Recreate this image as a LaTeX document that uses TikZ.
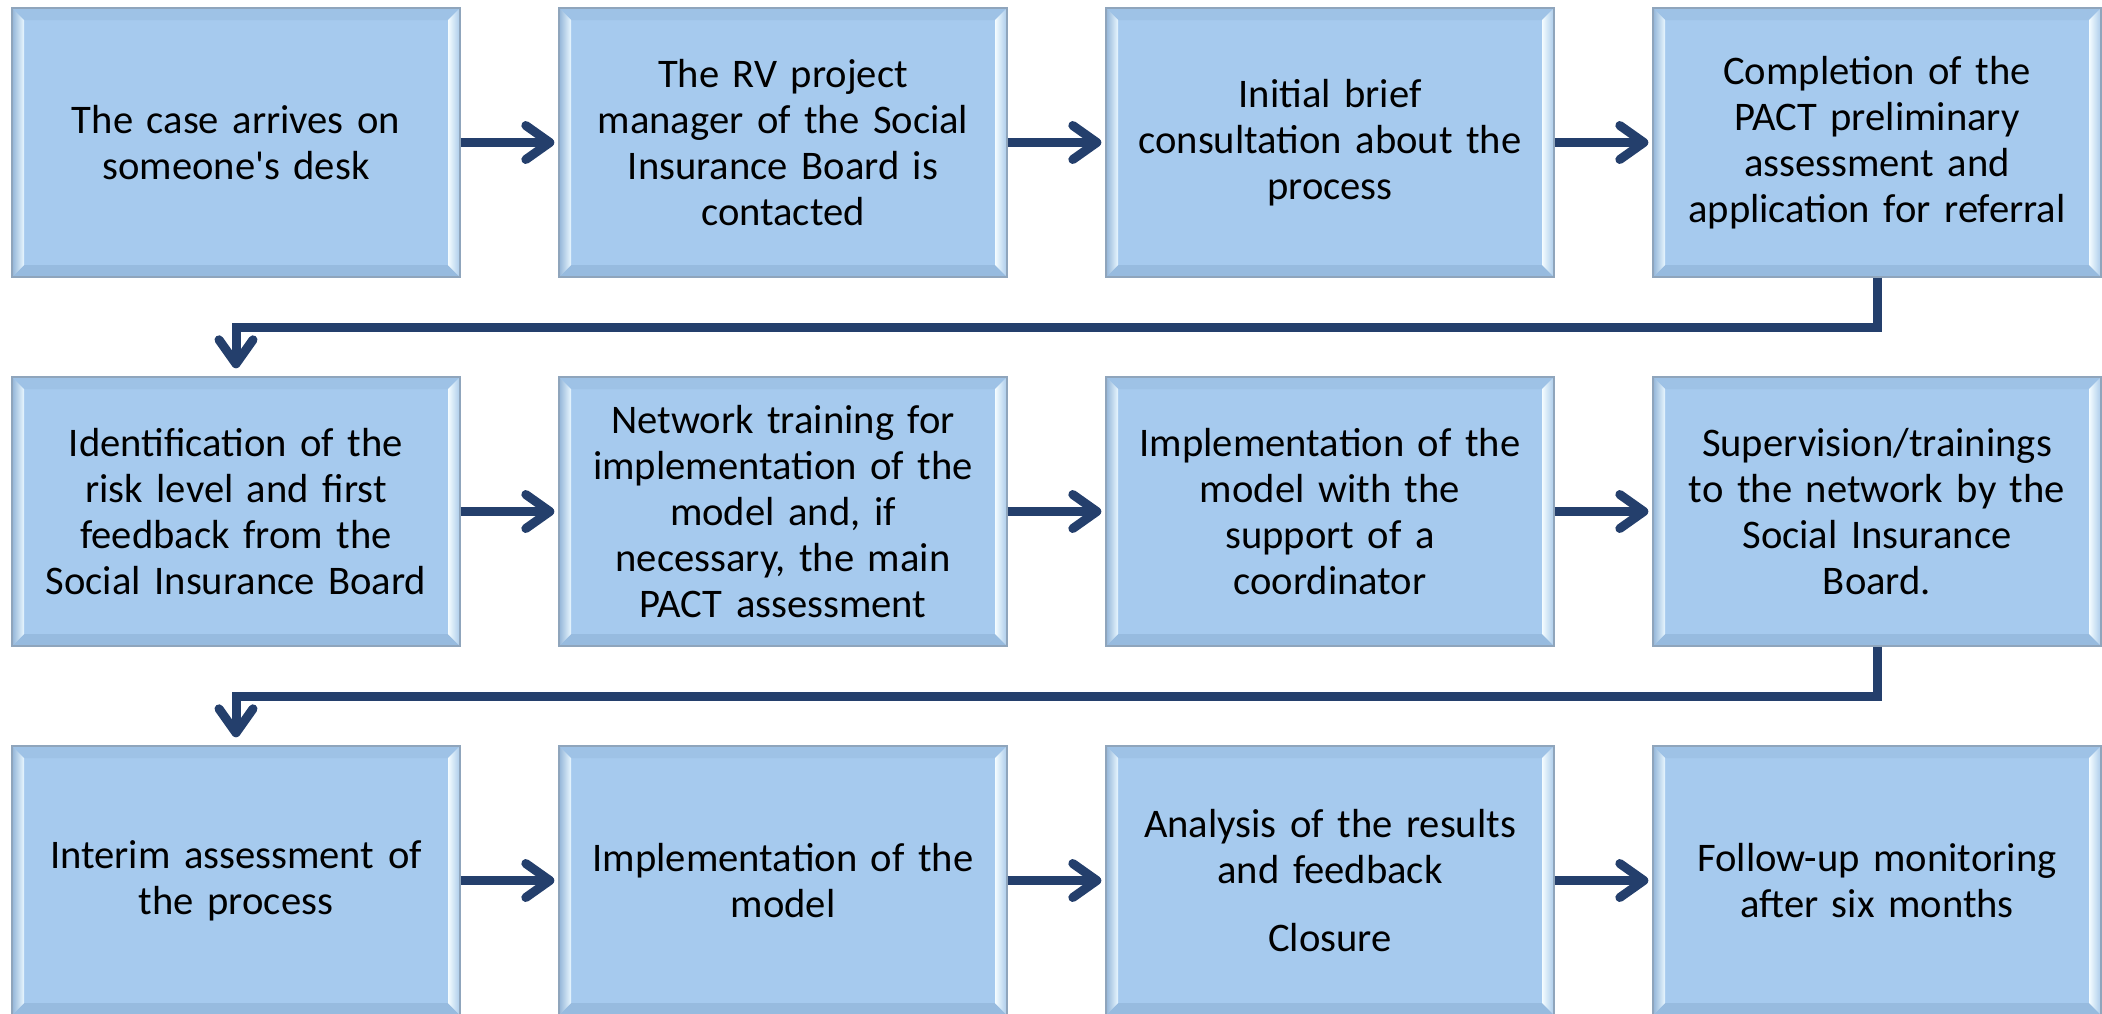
\documentclass[tikz,border=0pt]{standalone}
\usepackage{fontspec}
\setmainfont{Carlito}
\usetikzlibrary{arrows.meta,calc}
\definecolor{boxfill}{HTML}{A6CAEE}
\definecolor{boxborder}{HTML}{8FA5BC}
\definecolor{bevtop}{HTML}{9EC2E6}
\definecolor{bevbot}{HTML}{97BBDF}
\definecolor{bevLout}{HTML}{93B5D8}
\definecolor{bevLin}{HTML}{E8F7FF}
\definecolor{bevRout}{HTML}{AACBEA}
\definecolor{bevRin}{HTML}{F4FCFF}
\definecolor{arrowc}{HTML}{243F6C}
\newcommand{\boxfont}{\fontsize{20.3pt}{23pt}\selectfont}
\tikzset{
  bevelbox/.style={
    rectangle, draw=boxborder, line width=0.7pt, fill=boxfill,
    minimum width=224pt, minimum height=134.5pt, inner sep=0pt,
    text width=218pt, align=center, font=\boxfont, text=black,
    path picture={
      \coordinate (@sw) at (path picture bounding box.south west);
      \coordinate (@ne) at (path picture bounding box.north east);
      \coordinate (@nw) at (@sw|-@ne);
      \coordinate (@se) at (@ne|-@sw);
      \fill[bevtop] (@nw) -- (@ne) -- ($(@ne)+(-6pt,-6pt)$) -- ($(@nw)+(6pt,-6pt)$) -- cycle;
      \fill[bevbot] (@sw) -- (@se) -- ($(@se)+(-6pt,6pt)$) -- ($(@sw)+(6pt,6pt)$) -- cycle;
      \shade[left color=bevLout, right color=bevLin] (@sw) -- (@nw) -- ($(@nw)+(6pt,-6pt)$) -- ($(@sw)+(6pt,6pt)$) -- cycle;
      \shade[left color=bevRin, right color=bevRout] (@se) -- (@ne) -- ($(@ne)+(-6pt,-6pt)$) -- ($(@se)+(-6pt,6pt)$) -- cycle;
    }
  },
  flow/.style={draw=arrowc, line width=4.5pt,
    -{Straight Barb[length=12pt,width=17pt,round]}},
}
\begin{document}
\begin{tikzpicture}[x=0.5pt,y=-0.5pt]
\useasboundingbox (0,0) rectangle (2102,1013);
% row 1
\node[bevelbox] (n1) at (236,142.5) {The case arrives on\\someone\textquotesingle s desk};
\node[bevelbox] (n2) at (783,142.5) {The RV project\\manager of the Social\\Insurance Board is\\contacted};
\node[bevelbox] (n3) at (1330,142.5) {Initial brief\\consultation about the\\process};
\node[bevelbox] (n4) at (1877,142.5) {Completion of the\\PACT preliminary\\assessment and\\application for referral};
% row 2
\node[bevelbox] (n5) at (236,511.5) {Identification of the\\risk level and first\\feedback from the\\Social Insurance Board};
\node[bevelbox] (n6) at (783,511.5) {Network training for\\implementation of the\\model and, if\\necessary, the main\\PACT assessment};
\node[bevelbox] (n7) at (1330,511.5) {Implementation of the\\model with the\\support of a\\coordinator};
\node[bevelbox] (n8) at (1877,511.5) {Supervision/trainings\\to the network by the\\Social Insurance\\Board.};
% row 3
\node[bevelbox] (n9) at (236,880.5) {Interim assessment of\\the process};
\node[bevelbox] (n10) at (783,880.5) {Implementation of the\\model};
\node[bevelbox] (n11) at (1330,880.5) {Analysis of the results\\and feedback\\[11pt]Closure};
\node[bevelbox] (n12) at (1877,880.5) {Follow-up monitoring\\after six months};
% connectors
\foreach \a/\b in {n1/n2,n2/n3,n3/n4,n5/n6,n6/n7,n7/n8,n9/n10,n10/n11,n11/n12}
  \draw[flow, shorten >=2pt] (\a.east) -- (\b.west);
\coordinate (j1) at (1877,327);
\coordinate (j2) at (1877,696);
\draw[flow, shorten >=4pt] (n4.south) -- (j1) -| (n5.north);
\draw[flow, shorten >=4pt] (n8.south) -- (j2) -| (n9.north);
\end{tikzpicture}
\end{document}
